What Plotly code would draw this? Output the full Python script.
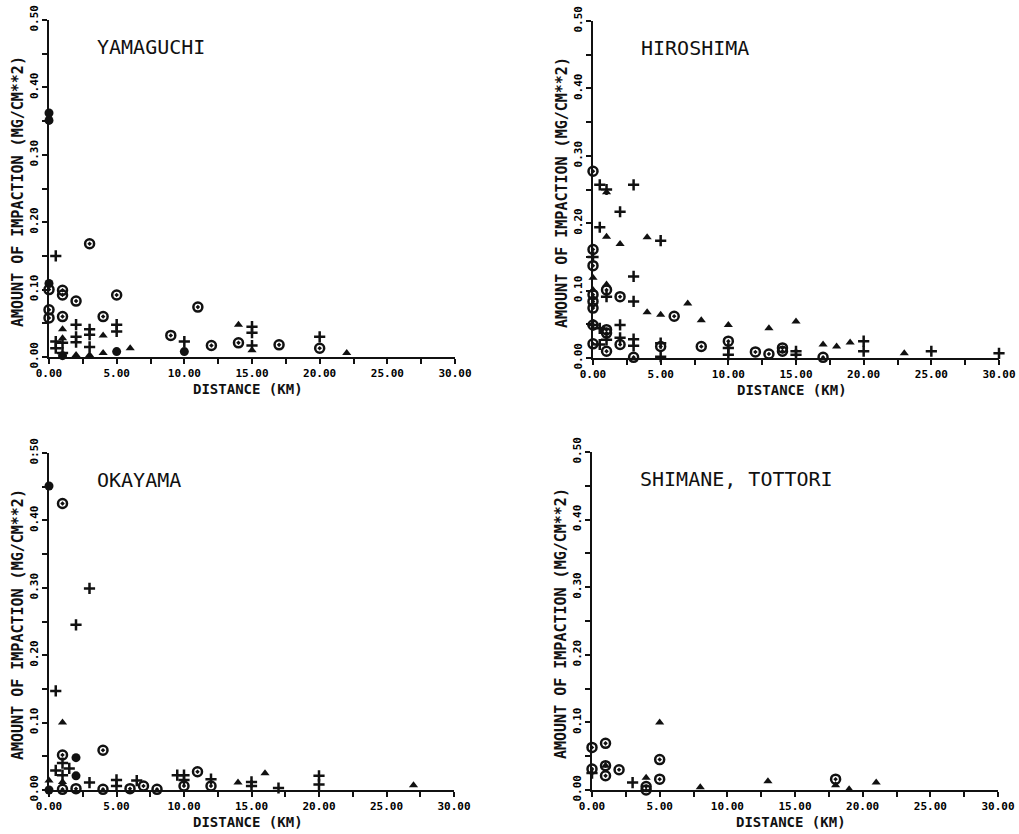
import plotly.graph_objects as go

# ---------------- DATA ----------------
panel_names = ["YAMAGUCHI", "HIROSHIMA", "OKAYAMA", "SHIMANE, TOTTORI"]

# YAMAGUCHI
yam_circle_x = [0, 0, 0, 1, 1, 1, 2, 3, 4, 5, 9, 11, 12, 14, 17, 20]
yam_circle_y = [0.100, 0.070, 0.058, 0.099, 0.092, 0.060, 0.083, 0.168, 0.060, 0.092, 0.032, 0.074, 0.017, 0.021, 0.018, 0.013]
yam_plus_x = [0.5, 0.5, 0.5, 1, 1, 2, 2, 2, 3, 3, 3, 5, 5, 10, 15, 15, 15, 20]
yam_plus_y = [0.150, 0.023, 0.013, 0.021, 0.006, 0.048, 0.030, 0.022, 0.041, 0.033, 0.015, 0.048, 0.038, 0.023, 0.045, 0.036, 0.017, 0.030]
yam_tri_x = [1, 1, 2, 3, 4, 4, 6, 14, 15, 22]
yam_tri_y = [0.041, 0.028, 0.003, 0.003, 0.032, 0.006, 0.013, 0.048, 0.010, 0.006]
yam_dot_x = [0, 0, 0, 1, 5, 10]
yam_dot_y = [0.362, 0.351, 0.109, 0.002, 0.008, 0.008]

# HIROSHIMA
hir_circle_x = [0, 0, 0, 0, 0, 0, 0, 0, 1, 1, 1, 1, 2, 2, 3, 5, 6, 8, 10, 12, 13, 14, 14, 17]
hir_circle_y = [0.277, 0.161, 0.137, 0.094, 0.084, 0.074, 0.049, 0.021, 0.101, 0.042, 0.037, 0.010, 0.091, 0.020, 0.001, 0.017, 0.062, 0.017, 0.025, 0.009, 0.006, 0.015, 0.010, 0.001]
hir_plus_x = [0, 0, 0.5, 0.5, 0.5, 0.5, 1, 1, 1, 2, 2, 2, 3, 3, 3, 3, 3, 5, 5, 5, 10, 10, 15, 15, 20, 20, 25, 30]
hir_plus_y = [0.150, 0.049, 0.257, 0.194, 0.044, 0.020, 0.250, 0.091, 0.027, 0.217, 0.049, 0.030, 0.257, 0.121, 0.084, 0.028, 0.018, 0.174, 0.022, 0.002, 0.015, 0.005, 0.010, 0.005, 0.025, 0.010, 0.010, 0.007]
hir_tri_x = [0, 0, 1, 1, 1, 2, 4, 4, 5, 7, 8, 10, 13, 15, 17, 18, 19, 23]
hir_tri_y = [0.119, 0.101, 0.246, 0.180, 0.109, 0.169, 0.179, 0.068, 0.064, 0.081, 0.056, 0.049, 0.044, 0.054, 0.020, 0.017, 0.023, 0.007]
hir_dot_x = []
hir_dot_y = []

# OKAYAMA
oka_circle_x = [1, 1, 1, 2, 4, 4, 6, 7, 8, 10, 11, 12]
oka_circle_y = [0.425, 0.052, 0.001, 0.002, 0.059, 0.001, 0.002, 0.006, 0.001, 0.006, 0.027, 0.006]
oka_plus_x = [0.5, 2, 3, 0.5, 1, 1, 1.5, 3, 5, 5, 6.5, 9.5, 10, 10, 12, 15, 15, 17, 20, 20]
oka_plus_y = [0.147, 0.245, 0.299, 0.029, 0.040, 0.022, 0.032, 0.011, 0.015, 0.006, 0.014, 0.022, 0.022, 0.015, 0.016, 0.012, 0.006, 0.003, 0.021, 0.008]
oka_tri_x = [0, 1, 1, 14, 16, 27]
oka_tri_y = [0.014, 0.100, 0.012, 0.011, 0.025, 0.007]
oka_dot_x = [0, 0, 2, 2]
oka_dot_y = [0.451, 0.000, 0.048, 0.021]

# SHIMANE, TOTTORI
shi_circle_x = [0, 0, 1, 1, 1, 2, 4, 4, 5, 5, 18]
shi_circle_y = [0.063, 0.031, 0.069, 0.036, 0.021, 0.030, 0.005, 0.000, 0.045, 0.016, 0.016]
shi_plus_x = [0, 3]
shi_plus_y = [0.025, 0.011]
shi_tri_x = [1, 4, 5, 8, 13, 18, 19, 21]
shi_tri_y = [0.036, 0.018, 0.100, 0.004, 0.013, 0.007, 0.001, 0.011]
shi_dot_x = []
shi_dot_y = []

x_tick_vals = [0, 5, 10, 15, 20, 25, 30]
x_tick_text = ["0.00", "5.00", "10.00", "15.00", "20.00", "25.00", "30.00"]
y_tick_vals = [0.0, 0.1, 0.2, 0.3, 0.4, 0.5]
y_tick_text = ["0.00", "0.10", "0.20", "0.30", "0.40", "0:50"]
y_tick_text_std = ["0.00", "0.10", "0.20", "0.30", "0.40", "0.50"]

x_title = "DISTANCE (KM)"
y_title = "AMOUNT OF IMPACTION (MG/CM**2)"

# ---------------- LAYOUT ----------------
W, H = 1019, 834
# pixel boxes of each plotting area: (x0, x1, ytop, ybottom)
boxes = [(49, 455, 20, 357), (593, 999, 21, 358), (49, 454, 453, 790), (592, 998, 452, 790)]

panels = [
    (yam_circle_x, yam_circle_y, yam_plus_x, yam_plus_y, yam_tri_x, yam_tri_y, yam_dot_x, yam_dot_y),
    (hir_circle_x, hir_circle_y, hir_plus_x, hir_plus_y, hir_tri_x, hir_tri_y, hir_dot_x, hir_dot_y),
    (oka_circle_x, oka_circle_y, oka_plus_x, oka_plus_y, oka_tri_x, oka_tri_y, oka_dot_x, oka_dot_y),
    (shi_circle_x, shi_circle_y, shi_plus_x, shi_plus_y, shi_tri_x, shi_tri_y, shi_dot_x, shi_dot_y),
]

TICK_FONT = dict(family="DejaVu Sans Mono", size=11, color="black", weight="bold")
INK = "#111111"

fig = go.Figure()
layout = {}
annotations = []
for i, (box, data) in enumerate(zip(boxes, panels)):
    n = "" if i == 0 else str(i + 1)
    xa, ya = "x" + n, "y" + n
    cx, cy, px, py, tx, ty, dx, dy = data
    common = dict(xaxis=xa, yaxis=ya, mode="markers", cliponaxis=False, showlegend=False, hoverinfo="x+y")
    fig.add_trace(go.Scatter(x=cx, y=cy, marker=dict(symbol="circle-open-dot", size=9, color=INK,
                                                      line=dict(width=2.5, color=INK)), **common))
    fig.add_trace(go.Scatter(x=px, y=py, marker=dict(symbol="cross-thin-open", size=8, color=INK,
                                                      line=dict(width=2.5, color=INK)), **common))
    fig.add_trace(go.Scatter(x=tx, y=ty, marker=dict(symbol="triangle-up", size=8, color=INK,
                                                      line=dict(width=0)), **common))
    fig.add_trace(go.Scatter(x=dx, y=dy, marker=dict(symbol="circle", size=9, color=INK,
                                                      line=dict(width=0)), **common))
    x0, x1, yt, yb = box
    layout["xaxis" + n] = dict(
        domain=[x0 / W, x1 / W], anchor=ya, range=[0, 30], automargin=False,
        showline=True, linecolor=INK, linewidth=2, showgrid=False, zeroline=False,
        ticks="outside", ticklen=5, tickwidth=2, tickcolor=INK,
        tickvals=x_tick_vals, ticktext=x_tick_text, tickfont=TICK_FONT,
        minor=dict(dtick=2.5, tick0=0, ticks="outside", ticklen=5, tickwidth=2, tickcolor=INK, showgrid=False),
        fixedrange=True,
    )
    layout["yaxis" + n] = dict(
        domain=[1 - yb / H, 1 - yt / H], anchor=xa, range=[0, 0.5], automargin=False,
        showline=True, linecolor=INK, linewidth=2, showgrid=False, zeroline=False,
        ticks="outside", ticklen=5, tickwidth=2, tickcolor=INK,
        tickvals=y_tick_vals, ticktext=(y_tick_text if i == 2 else y_tick_text_std),
        tickfont=TICK_FONT, tickangle=-90,
        minor=dict(dtick=0.05, tick0=0, ticks="outside", ticklen=5, tickwidth=2, tickcolor=INK, showgrid=False),
        fixedrange=True,
    )
    # panel name inside the plot
    annotations.append(dict(xref=xa, yref=ya, x=3.4, y=0.46, text=panel_names[i], showarrow=False,
                            xanchor="left", yanchor="middle",
                            font=dict(family="DejaVu Sans Mono", size=20, color=INK)))
    # x axis title
    annotations.append(dict(xref="paper", yref="paper", x=(x0 + 199) / W, y=1 - (yb + 32) / H,
                            text=x_title, showarrow=False, xanchor="center", yanchor="middle",
                            font=dict(family="DejaVu Sans Mono", size=14, color=INK, weight="bold")))
    # y axis title
    annotations.append(dict(xref="paper", yref="paper", x=(x0 - 31) / W, y=1 - (yt + 172) / H,
                            text=y_title, showarrow=False, xanchor="center", yanchor="middle",
                            textangle=-90,
                            font=dict(family="DejaVu Sans Mono", size=15, color=INK, weight="bold")))

fig.update_layout(
    width=W, height=H,
    margin=dict(l=0, r=0, t=0, b=0),
    paper_bgcolor="white", plot_bgcolor="white",
    annotations=annotations,
    **layout,
)

fig.write_html("out.html",
               config={"displayModeBar": False, "staticPlot": True},
               post_script="document.body.style.margin='0';document.body.style.overflow='hidden';")
